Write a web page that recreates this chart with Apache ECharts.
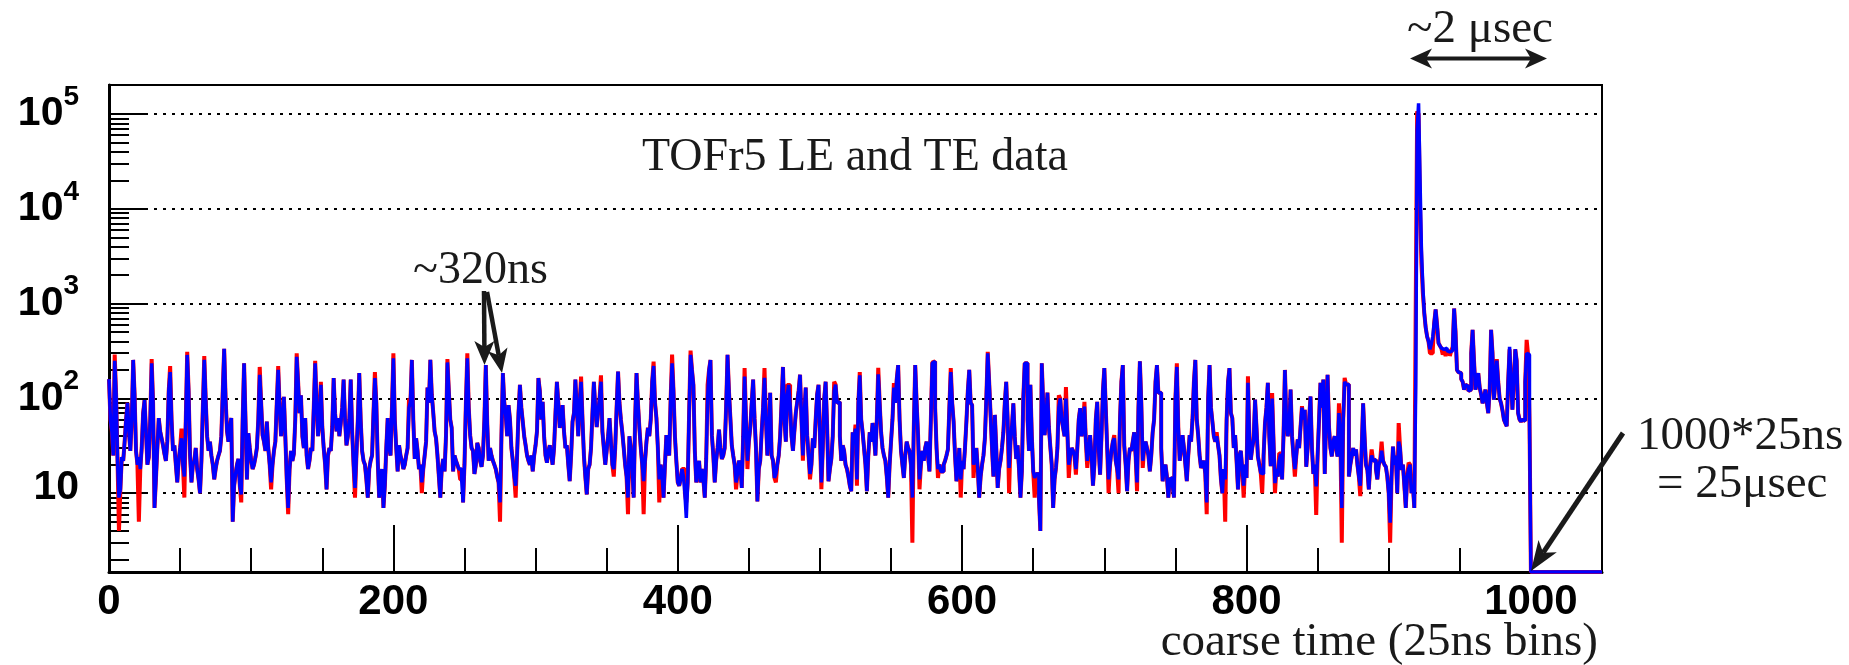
<!DOCTYPE html>
<html>
<head>
<meta charset="utf-8">
<script src="https://cdn.jsdelivr.net/npm/echarts@6/dist/echarts.min.js"></script>
<style>
html,body{margin:0;padding:0;background:#fff;}
#chart{width:1849px;height:665px;}
</style>
</head>
<body>
<div id="chart"></div>
<script>
// ---- axis ranges and ticks ----
const xRange = [0, 1050];
const yRange = [1.475, 2.03e5];
const xMajorTicks = [0, 200, 400, 600, 800, 1000];
const xMinorTicks = [50, 100, 150, 250, 300, 350, 450, 500, 550, 650, 700, 750, 850, 900, 950, 1050];
const yMajorTicks = [10, 100, 1000, 10000, 100000];
const yMinorTicks = [2, 3, 4, 5, 6, 7, 8, 9, 20, 30, 40, 50, 60, 70, 80, 90,
  200, 300, 400, 500, 600, 700, 800, 900, 2000, 3000, 4000, 5000, 6000, 7000, 8000, 9000,
  20000, 30000, 40000, 50000, 60000, 70000, 80000, 90000];

// ---- histogram contents: counts per coarse-time bin (bin i spans [i, i+1)) ----
const teCounts = [
/*0*/ 160, 60, 45, 25, 250, 110, 22, 9, 11, 24,
/*10*/ 22, 35, 60, 90, 45, 28, 60, 255, 110, 28,
/*20*/ 20, 24, 18, 30, 70, 96, 45, 20, 24, 60,
/*30*/ 235, 90, 7, 14, 30, 62, 45, 38, 32, 26,
/*40*/ 22, 35, 120, 190, 60, 28, 32, 20, 13, 22,
/*50*/ 30, 38, 20, 15, 60, 288, 120, 25, 13, 20,
/*60*/ 22, 30, 18, 14, 10, 22, 80, 255, 100, 40,
/*70*/ 28, 35, 25, 20, 14, 18, 22, 25, 28, 40,
/*80*/ 120, 335, 100, 45, 35, 50, 62, 5, 12, 16,
/*90*/ 20, 23, 12, 9.7, 60, 235, 60, 14, 43, 30,
/*100*/ 22, 18, 20, 24, 30, 60, 178, 90, 41, 35,
/*110*/ 28, 57, 30, 20, 13, 20, 28, 35, 90, 200,
/*120*/ 80, 40, 60, 104, 40, 14, 7, 18, 28, 22,
/*130*/ 26, 60, 275, 150, 70, 108, 40, 30, 62, 25,
/*140*/ 18, 22, 30, 28, 80, 235, 90, 40, 60, 139,
/*150*/ 50, 30, 20, 11, 25, 30, 28, 50, 164, 70,
/*160*/ 45, 62, 40, 55, 80, 158, 60, 32, 40, 60,
/*170*/ 158, 45, 20, 11.4, 25, 60, 185, 60, 28, 22,
/*180*/ 20, 14, 9, 18, 22, 25, 70, 164, 90, 22,
/*190*/ 9, 14, 18, 7, 12, 30, 62, 30, 25, 80,
/*200*/ 265, 60, 30, 17, 32, 25, 22, 18, 20, 25,
/*210*/ 30, 80, 92, 255, 60, 23, 38, 28, 18, 20,
/*220*/ 13, 18, 25, 35, 130, 90, 255, 110, 72, 45,
/*230*/ 38, 25, 15, 9, 18, 23, 17, 40, 240, 120,
/*240*/ 60, 49, 17, 25, 22, 20, 18, 18, 14, 8,
/*250*/ 20, 90, 265, 80, 41, 30, 28, 16, 20, 34,
/*260*/ 30, 22, 19, 25, 60, 225, 55, 22, 30, 25,
/*270*/ 22, 20, 18, 15, 13, 8, 40, 185, 90, 67,
/*280*/ 40, 85, 60, 30, 22, 15, 12, 25, 70, 139,
/*290*/ 80, 57, 40, 32, 25, 22, 20, 25, 17, 25,
/*300*/ 32, 45, 164, 120, 60, 92, 40, 25, 21, 28,
/*310*/ 32, 25, 20, 30, 70, 150, 90, 49, 60, 85,
/*320*/ 45, 30, 32, 20, 13.4, 25, 57, 70, 158, 80,
/*330*/ 40, 90, 150, 60, 25, 15, 9.7, 18, 20, 30,
/*340*/ 70, 150, 80, 50, 72, 100, 150, 45, 30, 20,
/*350*/ 28, 40, 62, 35, 20, 18, 30, 80, 192, 90,
/*360*/ 60, 44, 30, 20, 15, 9, 40, 30, 18, 9,
/*370*/ 60, 185, 90, 49, 30, 20, 13.4, 22, 35, 49,
/*380*/ 40, 60, 150, 220, 90, 62, 30, 14, 20, 15,
/*390*/ 9, 20, 41, 30, 25, 100, 235, 120, 40, 22,
/*400*/ 13, 12, 14, 18, 15, 10, 5.5, 13, 72, 288,
/*410*/ 200, 139, 28, 13, 18, 22, 13, 18, 14, 9,
/*420*/ 23, 100, 200, 255, 41, 25, 13, 22, 30, 47,
/*430*/ 30, 23, 25, 30, 80, 288, 120, 62, 32, 25,
/*440*/ 20, 13, 16, 22, 20, 11.4, 40, 170, 60, 22,
/*450*/ 35, 49, 90, 158, 62, 30, 8.2, 18, 22, 44,
/*460*/ 80, 165, 60, 25, 40, 115, 25, 22, 14.5, 16,
/*470*/ 20, 25, 40, 90, 215, 60, 35, 110, 139, 85,
/*480*/ 40, 28, 45, 70, 92, 120, 178, 60, 25, 70,
/*490*/ 130, 41, 25, 16, 20, 38, 30, 60, 110, 139,
/*500*/ 40, 13, 30, 100, 150, 53, 13.4, 18, 23, 40,
/*510*/ 120, 140, 90, 92, 40, 22, 32, 28, 20, 18,
/*520*/ 15, 12, 10.5, 44, 35, 48, 14, 90, 175, 60,
/*530*/ 44, 30, 20, 10.5, 25, 44, 35, 55, 40, 25,
/*540*/ 60, 180, 90, 44, 30, 25, 22, 15, 9, 20,
/*550*/ 35, 60, 130, 90, 160, 225, 60, 28, 20, 14.5,
/*560*/ 25, 35, 30, 28, 20, 9, 50, 225, 90, 41,
/*570*/ 14, 20, 28, 22, 30, 35, 25, 17, 60, 235,
/*580*/ 246, 80, 30, 18, 20, 17, 17, 20, 22, 25,
/*590*/ 29, 80, 190, 90, 57, 25, 13.4, 18, 30, 14,
/*600*/ 22, 18, 30, 57, 120, 200, 90, 85, 20, 25,
/*610*/ 30, 18, 9, 15, 20, 25, 38, 100, 300, 150,
/*620*/ 67, 30, 15, 67, 30, 11.4, 18, 22, 30, 44,
/*630*/ 90, 150, 60, 18.5, 35, 50, 89, 40, 23, 32,
/*640*/ 18, 9, 17, 100, 235, 235, 60, 28, 139, 40,
/*650*/ 17, 14.5, 16, 16, 9, 4, 235, 90, 41, 60,
/*660*/ 115, 50, 31, 20, 7, 14, 18.5, 30, 80, 100,
/*670*/ 60, 49, 40, 100, 45, 20, 25, 30, 28, 25,
/*680*/ 18, 30, 60, 79, 40, 50, 82, 35, 22, 30,
/*690*/ 41, 25, 12, 20, 60, 92, 30, 15.7, 40, 120,
/*700*/ 209, 80, 30, 14, 20, 28, 35, 38, 22, 18,
/*710*/ 14, 60, 150, 225, 32, 20, 10.5, 22, 30, 28,
/*720*/ 35, 44, 25, 13, 80, 246, 90, 22, 30, 35,
/*730*/ 30, 25, 17, 25, 44, 60, 150, 225, 115, 115,
/*740*/ 30, 13.4, 18, 20, 15, 9, 14, 14.5, 12, 9,
/*750*/ 100, 215, 50, 22, 30, 41, 30, 20, 13.4, 25,
/*760*/ 41, 35, 60, 150, 255, 60, 41, 25, 18.5, 20,
/*770*/ 22, 16, 8, 100, 225, 80, 57, 40, 35, 40,
/*780*/ 32, 25, 14, 10, 18, 14, 60, 150, 209, 70,
/*790*/ 62, 30, 41, 22, 11, 25, 28, 18, 12, 20,
/*800*/ 14.5, 146, 40, 22.6, 30, 36.8, 97, 50, 24.5, 20,
/*810*/ 16.4, 16, 25, 55, 80, 146, 40, 19.3, 100, 35,
/*820*/ 12.8, 18, 15, 22, 26, 14, 40, 200, 60, 40,
/*830*/ 50, 124, 40, 25, 18, 25, 37, 30, 50, 80,
/*840*/ 60, 76, 19, 30, 60, 105, 30, 16, 20, 11.8,
/*850*/ 25, 60, 146, 80, 158, 16, 60, 178, 50, 30,
/*860*/ 24.5, 35, 40, 30, 24.5, 70, 40, 7, 60, 150,
/*870*/ 140, 140, 15, 20, 24.5, 30, 25, 29, 20, 15,
/*880*/ 12, 30, 89, 40, 20, 17.6, 11, 20, 25, 22,
/*890*/ 22.6, 18, 14, 20, 22, 28, 22, 20, 19, 15,
/*900*/ 10, 4.9, 15, 31, 20, 25, 10, 35, 30, 17.6,
/*910*/ 20, 12, 7, 15, 18, 20, 10, 12, 7, 134,
/*920*/ 68000, 130000, 21000, 3700, 1500, 800, 560, 450, 400, 330,
/*930*/ 380, 450, 630, 870, 600, 385, 360, 340, 330, 320,
/*940*/ 340, 320, 310, 300, 320, 350, 890, 500, 200, 190,
/*950*/ 185, 160, 150, 124, 140, 134, 120, 124, 300, 530,
/*960*/ 250, 124, 150, 185, 130, 110, 89, 100, 124, 90,
/*970*/ 70, 120, 530, 300, 97, 150, 250, 150, 100, 89,
/*980*/ 75, 60, 55, 51, 150, 350, 150, 76, 150, 330,
/*990*/ 250, 70, 60, 57, 60, 58, 150, 300, 290, 62,
/*1000*/ 0, 0, 0, 0, 0, 0, 0, 0, 0, 0,
/*1010*/ 0, 0, 0, 0, 0, 0, 0, 0, 0, 0,
/*1020*/ 0, 0, 0, 0, 0, 0, 0, 0, 0, 0,
/*1030*/ 0, 0, 0, 0, 0, 0, 0, 0, 0, 0,
/*1040*/ 0, 0, 0, 0, 0, 0, 0, 0, 0, 0
];

// LE histogram (red): identical to the TE counts except in these bins [bin, count]
const leDifferentBins = [
  [4, 290], [7, 4], [21, 5], [30, 260], [43, 220], [51, 48], [53, 9], [55, 310], [67, 280], [93, 8],
  [106, 215], [114, 11], [119, 220], [126, 6], [132, 300], [145, 250], [149, 150], [173, 9], [187, 190], [200, 300],
  [211, 100], [220, 10], [238, 260], [247, 14], [252, 300], [275, 5], [286, 9], [332, 170], [346, 175], [355, 15],
  [365, 6], [376, 6], [383, 245], [387, 8], [396, 290],
  [404, 18], [406, 8], [409, 320], [421, 140], [441, 11], [447, 209], [449, 18], [461, 209], [469, 13], [477, 139],
  [488, 22], [493, 14], [501, 11], [510, 150], [525, 53], [526, 12], [528, 190], [541, 210], [552, 145], [565, 3],
  [570, 11], [579, 240], [583, 14.5], [592, 209], [599, 9],
  [608, 14.5], [618, 310], [633, 10], [651, 9], [668, 108], [673, 132], [675, 14.5], [680, 15.7], [686, 92], [688, 18.5],
  [703, 10], [707, 41], [710, 10], [718, 30], [723, 10.5], [727, 18.5], [751, 235], [772, 6], [779, 44], [785, 5],
  [796, 28], [798, 9],
  [801, 171], [811, 10], [818, 114], [820, 10], [823, 26.5], [834, 15], [839, 83], [849, 5.9], [865, 89], [867, 3],
  [869, 165], [880, 9.3], [888, 29], [895, 35], [901, 3], [907, 55], [914, 21], [919, 975], [920, 107000], [921, 100000],
  [922, 11000], [923, 2700], [924, 1300], [929, 300], [930, 300], [931, 330], [938, 290], [940, 280], [943, 280],
  [976, 260], [985, 330], [997, 415]
];

const leCounts = teCounts.slice();
leDifferentBins.forEach(function (d) { leCounts[d[0]] = d[1]; });

// Histogram drawn as steps through bin edges; empty bins sit on the frame floor (as ROOT draws them)
function histPoints(counts) {
  const pts = counts.map(function (c, i) { return [i, c > 0 ? c : yRange[0]]; });
  const last = counts[counts.length - 1];
  pts.push([counts.length, last > 0 ? last : yRange[0]]);
  return pts;
}

const sansBold = { fontFamily: 'Liberation Sans', fontWeight: 'bold', color: '#000' };
const serif = '"Liberation Serif", "DejaVu Serif", serif';
const ink = '#1a1a1a';

function arrowHead(fx, fy, tx, ty, len, half, notch) {
  const dx = tx - fx, dy = ty - fy, L = Math.hypot(dx, dy);
  const ux = dx / L, uy = dy / L, px = -uy, py = ux;
  const bx = tx - ux * len, by = ty - uy * len;
  const nx = tx - ux * (len - notch), ny = ty - uy * (len - notch);
  return { poly: [[tx, ty], [bx + px * half, by + py * half], [nx, ny], [bx - px * half, by - py * half]], neck: [nx, ny] };
}
function arrow(fx, fy, tx, ty, w, len, half, notch, both) {
  const h = arrowHead(fx, fy, tx, ty, len, half, notch);
  const els = [];
  let start = [fx, fy];
  if (both) {
    const h2 = arrowHead(tx, ty, fx, fy, len, half, notch);
    els.push({ type: 'polygon', shape: { points: h2.poly }, style: { fill: ink }, z: 100 });
    start = h2.neck;
  }
  els.push({ type: 'line', shape: { x1: start[0], y1: start[1], x2: h.neck[0], y2: h.neck[1] }, style: { stroke: ink, lineWidth: w }, z: 100 });
  els.push({ type: 'polygon', shape: { points: h.poly }, style: { fill: ink }, z: 100 });
  return els;
}
function label(text, x, y, size, align) {
  return { type: 'text', x: x, y: y, z: 100,
    style: { text: text, fill: ink, font: size + 'px ' + serif, align: align, verticalAlign: 'middle' } };
}

const graphics = [].concat(
  [label('TOFr5 LE and TE data', 855, 158, 46, 'center'),
   label('~320ns', 413, 271, 46, 'left'),
   label('~2 \u03bcsec', 1407, 30, 47, 'left'),
   label('1000*25ns', 1637, 437, 47, 'left'),
   label('= 25\u03bcsec', 1657, 485, 47, 'left'),
   label('coarse time (25ns bins)', 1598, 643, 47, 'right')],
  arrow(484, 291, 484.5, 365, 4.5, 24, 10, 6, false),
  arrow(487, 292, 502, 373, 4.5, 24, 10, 6, false),
  arrow(1623, 433, 1531, 571, 5, 30, 11, 8, false),
  arrow(1410, 58.5, 1547, 58.5, 4, 22, 10, 6, true)
);

const chart = echarts.init(document.getElementById('chart'), null, { renderer: 'canvas' });
chart.setOption({
  animation: false,
  backgroundColor: '#fff',
  grid: { left: 109, right: 247, top: 85, bottom: 93, show: true, borderColor: '#000', borderWidth: 2, outerBoundsMode: 'none' },
  xAxis: [
    { type: 'value', min: xRange[0], max: xRange[1], interval: 50, position: 'bottom',
      axisLine: { show: true, onZero: false, lineStyle: { color: '#000', width: 3 } },
      axisTick: { show: true, inside: true, length: 24, customValues: xMinorTicks, lineStyle: { color: '#000', width: 2 } },
      axisLabel: { show: false }, splitLine: { show: false } },
    { type: 'value', min: xRange[0], max: xRange[1], interval: 200, position: 'bottom',
      axisLine: { show: false, onZero: false },
      axisTick: { show: true, inside: true, length: 47, customValues: xMajorTicks, lineStyle: { color: '#000', width: 2 } },
      axisLabel: Object.assign({ show: true, customValues: xMajorTicks, fontSize: 42, margin: 9,
        formatter: function (v) { return String(v); } }, sansBold),
      splitLine: { show: false } }
  ],
  yAxis: [
    { type: 'log', logBase: 10, min: yRange[0], max: yRange[1], position: 'left',
      axisLine: { show: true, onZero: false, lineStyle: { color: '#000', width: 3 } },
      axisTick: { show: true, inside: true, length: 37, customValues: yMajorTicks, lineStyle: { color: '#000', width: 2 } },
      axisLabel: {
        show: true, customValues: yMajorTicks, margin: 30,
        formatter: function (v) {
          const e = Math.round(Math.log10(v));
          return e === 1 ? '{one|10}' : '{base|10}{sup|' + e + '}';
        },
        rich: {
          one: { fontFamily: 'Liberation Sans', fontWeight: 'bold', fontSize: 41, lineHeight: 41, color: '#000', padding: [0, 0, 12, 0] },
          base: { fontFamily: 'Liberation Sans', fontWeight: 'bold', fontSize: 41, lineHeight: 62, color: '#000' },
          sup: { fontFamily: 'Liberation Sans', fontWeight: 'bold', fontSize: 28, lineHeight: 28, color: '#000', verticalAlign: 'top' }
        }
      },
      splitLine: { show: true, lineStyle: { color: '#000', width: 2, type: [3, 6] } } },
    { type: 'log', logBase: 10, min: yRange[0], max: yRange[1], position: 'left',
      axisLine: { show: false, onZero: false },
      axisTick: { show: true, inside: true, length: 20, customValues: yMinorTicks, lineStyle: { color: '#000', width: 2 } },
      axisLabel: { show: false }, splitLine: { show: false } }
  ],
  series: [
    { name: 'LE', type: 'line', step: 'end', xAxisIndex: 0, yAxisIndex: 0, showSymbol: false, symbol: 'none',
      data: histPoints(leCounts), lineStyle: { color: '#ff0000', width: 4 }, z: 3 },
    { name: 'TE', type: 'line', step: 'end', xAxisIndex: 0, yAxisIndex: 0, showSymbol: false, symbol: 'none',
      data: histPoints(teCounts), lineStyle: { color: '#0000ff', width: 3.5 }, z: 4 }
  ],
  graphic: graphics
});
</script>
</body>
</html>
